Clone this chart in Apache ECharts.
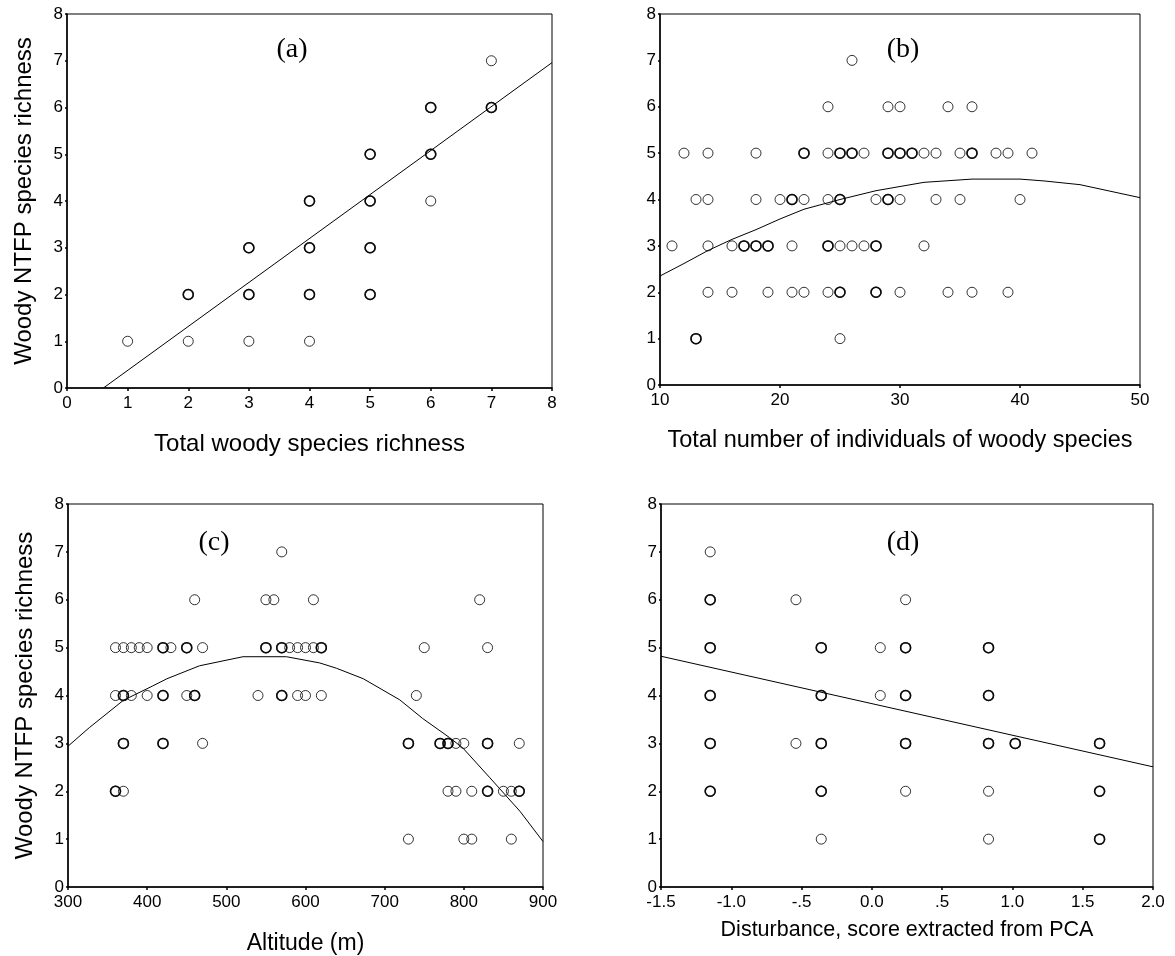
<!DOCTYPE html>
<html>
<head>
<meta charset="utf-8">
<script src="https://cdn.jsdelivr.net/npm/echarts@6/dist/echarts.min.js"></script>
<style>
html,body{margin:0;padding:0;background:#fff;}
#chart{width:1175px;height:956px;}
</style>
</head>
<body>
<div id="chart"></div>
<script>
// ---------- DATA ----------
const yLevels = [1, 2, 3, 4, 5, 6, 7];

// x values of the points found at each y level (index matches yLevels)
const aXAtLevel = [
  [1, 2, 3, 4],
  [2, 2, 3, 3, 4, 4, 5, 5],
  [3, 3, 4, 4, 5, 5],
  [4, 4, 5, 5, 6],
  [5, 5, 6, 6],
  [6, 6, 7, 7],
  [7]
];
const aLineX = [0.6, 8];
const aLineY = [0, 6.96];

const bXAtLevel = [
  [13, 13, 25],
  [14, 16, 19, 21, 22, 24, 25, 25, 28, 28, 30, 34, 36, 39],
  [11, 14, 16, 17, 17, 18, 18, 19, 19, 21, 24, 24, 25, 26, 27, 28, 28, 32],
  [13, 14, 18, 20, 21, 21, 22, 24, 25, 25, 28, 29, 29, 30, 33, 35, 40],
  [12, 14, 18, 22, 22, 24, 25, 25, 26, 26, 27, 29, 29, 30, 30, 31, 31, 32, 33, 35, 36, 36, 38, 39, 41],
  [24, 29, 30, 34, 36],
  [26]
];
const bLineX = [10, 12, 14, 16, 18, 20, 22, 25, 28, 30, 32, 36, 40, 42, 45, 50];
const bLineY = [2.35, 2.62, 2.90, 3.14, 3.35, 3.58, 3.79, 4.00, 4.19, 4.28, 4.37, 4.44, 4.44, 4.40, 4.32, 4.04];

const cXAtLevel = [
  [730, 800, 810, 860],
  [360, 360, 370, 780, 790, 810, 830, 830, 850, 860, 870, 870],
  [370, 370, 420, 420, 470, 730, 730, 770, 770, 780, 780, 790, 800, 830, 830, 870],
  [360, 370, 370, 380, 400, 420, 420, 450, 460, 460, 540, 570, 570, 590, 600, 620, 740],
  [360, 370, 380, 390, 400, 420, 420, 430, 450, 450, 470, 550, 550, 570, 570, 580, 590, 600, 610, 620, 620, 750, 830],
  [460, 550, 560, 610, 820],
  [570]
];
const cLineX = [300, 327, 370, 407, 425, 466, 521, 576, 618, 639, 673, 719, 748, 782, 799, 833, 871, 900];
const cLineY = [2.94, 3.33, 3.90, 4.20, 4.35, 4.62, 4.81, 4.81, 4.68, 4.57, 4.35, 3.91, 3.52, 3.12, 2.90, 2.28, 1.58, 0.95];

const dXAtLevel = [
  [-0.36, 0.83, 1.62, 1.62],
  [-1.15, -1.15, -0.36, -0.36, 0.24, 0.83, 1.62, 1.62],
  [-1.15, -1.15, -0.54, -0.36, -0.36, 0.24, 0.24, 0.83, 0.83, 1.02, 1.02, 1.62, 1.62],
  [-1.15, -1.15, -0.36, -0.36, 0.06, 0.24, 0.24, 0.83, 0.83],
  [-1.15, -1.15, -0.36, -0.36, 0.06, 0.24, 0.24, 0.83, 0.83],
  [-1.15, -1.15, -0.54, 0.24],
  [-1.15]
];
const dLineX = [-1.5, 2.0];
const dLineY = [4.82, 2.51];
const dTickLabels = ['-1.5', '-1.0', '-.5', '0.0', '.5', '1.0', '1.5', '2.0'];

const panelLabels = ['(a)', '(b)', '(c)', '(d)'];
const xNames = ['Total woody species richness', 'Total number of individuals of woody species',
  'Altitude (m)', 'Disturbance, score extracted from PCA'];
const yName = 'Woody NTFP species richness';

// ---------- BUILD ----------
function buildPoints(xAtLevel) {
  const pts = [];
  xAtLevel.forEach((xs, i) => {
    const y = yLevels[i];
    xs.forEach(x => {
      const n = xs.filter(v => v === x).length;
      pts.push({ value: [x, y], itemStyle: { borderWidth: n > 1 ? 1.5 : 1 } });
    });
  });
  return pts;
}
function pairs(xs, ys) { return xs.map((x, i) => [x, ys[i]]); }

const FONT = 'Liberation Sans, Arial, sans-serif';
const grids = [
  { left: 67, top: 14, width: 485, height: 374 },
  { left: 660, top: 14, width: 480, height: 371 },
  { left: 68, top: 504, width: 475, height: 383 },
  { left: 661, top: 504, width: 492, height: 383 }
].map(g => Object.assign(g, { show: true, borderColor: '#000', borderWidth: 1, backgroundColor: 'transparent', containLabel: false }));

const xRanges = [
  { min: 0, max: 8, interval: 1 },
  { min: 10, max: 50, interval: 10 },
  { min: 300, max: 900, interval: 100 },
  { min: -1.5, max: 2.0, interval: 0.5 }
];
const xNameSize = [24, 23.5, 23, 21.5];
const xNameGap = [44, 44, 45, 32];

const xAxis = xRanges.map((r, i) => ({
  type: 'value', gridIndex: i, min: r.min, max: r.max, interval: r.interval,
  splitLine: { show: false },
  axisLine: { show: true, onZero: false, lineStyle: { color: '#000', width: 1.5 } },
  axisTick: { show: true, length: 3, lineStyle: { color: '#000', width: 1.5 } },
  axisLabel: {
    color: '#000', fontFamily: FONT, fontSize: 17, margin: 7,
    formatter: i === 3 ? (v => dTickLabels[Math.round((v - r.min) / r.interval)]) : (v => String(v))
  },
  name: xNames[i], nameLocation: 'middle', nameGap: xNameGap[i],
  nameTextStyle: { color: '#000', fontFamily: FONT, fontSize: xNameSize[i] }
}));

const yAxis = [0, 1, 2, 3].map(i => ({
  type: 'value', gridIndex: i, min: 0, max: 8, interval: 1,
  splitLine: { show: false },
  axisLine: { show: true, onZero: false, lineStyle: { color: '#000', width: 1.5 } },
  axisTick: { show: true, length: 2, lineStyle: { color: '#000', width: 1.5 } },
  axisLabel: { color: '#000', fontFamily: FONT, fontSize: 17, margin: 4 },
  name: (i === 0 || i === 2) ? yName : '',
  nameLocation: 'middle', nameGap: 31, nameRotate: 90,
  nameTextStyle: { color: '#000', fontFamily: FONT, fontSize: 24 }
}));

const pointSets = [aXAtLevel, bXAtLevel, cXAtLevel, dXAtLevel];
const lineSets = [pairs(aLineX, aLineY), pairs(bLineX, bLineY), pairs(cLineX, cLineY), pairs(dLineX, dLineY)];

const series = [];
pointSets.forEach((ps, i) => {
  series.push({
    type: 'scatter', xAxisIndex: i, yAxisIndex: i, symbol: 'circle', symbolSize: 10,
    itemStyle: { color: 'rgba(0,0,0,0)', borderColor: '#000', borderWidth: 1 },
    data: buildPoints(ps), silent: true, z: 3
  });
  series.push({
    type: 'line', xAxisIndex: i, yAxisIndex: i, showSymbol: false, smooth: false,
    lineStyle: { color: '#000', width: 1 }, data: lineSets[i], silent: true, z: 2
  });
});

const labelPos = [[292, 50], [903, 50], [214, 543], [903, 543]];
const graphic = panelLabels.map((t, i) => ({
  type: 'text', x: labelPos[i][0], y: labelPos[i][1], silent: true,
  style: { text: t, fill: '#000', font: '28px "Liberation Serif", "Times New Roman", serif', textAlign: 'center', textVerticalAlign: 'middle' }
}));

const chart = echarts.init(document.getElementById('chart'), null, { renderer: 'canvas' });
chart.setOption({
  animation: false,
  backgroundColor: '#fff',
  grid: grids, xAxis: xAxis, yAxis: yAxis, series: series, graphic: graphic
});
</script>
</body>
</html>
